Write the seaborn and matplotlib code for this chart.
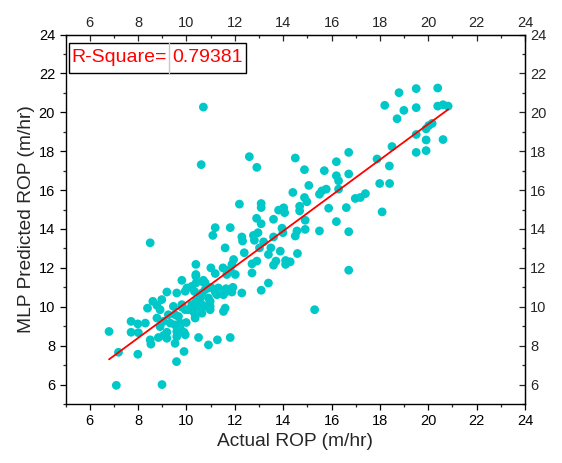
import numpy as np
import pandas as pd
import matplotlib
matplotlib.use('Agg')
import matplotlib.pyplot as plt
import seaborn as sns

# Values (actual vs MLP predicted ROP, m/hr).

actual_rop = [
    10.70, 10.61, 12.60, 12.91, 14.50, 14.88, 15.06, 8.50, 12.19, 13.09,
    13.09, 14.40, 14.88, 14.98, 14.68, 14.68, 13.81, 14.02, 14.06, 13.60,
    12.90, 13.09, 12.96, 12.77, 12.81, 13.19, 13.02, 13.49, 13.60, 13.95,
    13.99, 14.57, 14.50, 14.91, 14.91, 13.88, 14.59, 14.10, 14.29, 14.10,
    13.60, 13.70, 12.71, 12.71, 12.91, 12.39, 12.32, 12.29, 11.60, 11.19,
    11.09, 11.81, 10.39, 11.01, 11.19, 11.51, 11.95, 11.88, 11.67, 12.02,
    10.39, 9.81, 10.70, 13.39, 13.09, 13.39, 11.81,
    15.70, 16.20, 16.20, 16.71, 16.71, 16.29, 16.29, 15.50, 15.60, 15.78,
    15.88, 16.20, 16.61, 16.71, 15.50, 16.98, 17.19, 17.40, 16.71, 17.88,
    17.99, 18.39, 18.40, 18.50, 18.09, 18.20, 18.71, 18.79, 18.99, 19.50,
    19.50, 19.50, 19.50, 19.91, 19.91, 19.91, 20.02, 20.16, 20.39, 20.39,
    20.61, 20.82, 20.61, 15.30,
    6.80, 7.19, 7.99, 7.10, 8.99, 9.59, 9.90, 10.50, 10.91, 11.28,
    11.81, 7.71, 7.71, 7.99, 8.01, 8.30, 8.50, 8.53, 8.39, 8.61,
    8.78, 8.98, 8.91, 9.19, 9.60, 9.46, 8.78, 8.91, 9.05, 9.25,
    9.33, 9.53, 9.67, 9.99, 9.74, 9.90, 9.95, 8.84, 9.19, 9.60,
    9.53, 9.53, 9.81, 10.40, 10.57, 10.22, 10.64, 10.98, 10.08, 10.36,
    10.73, 11.53, 11.60, 10.40, 10.68, 10.02, 10.22, 11.01, 11.19, 11.64,
    11.92, 11.53, 11.88, 12.29, 10.39, 10.50, 10.29, 10.36, 9.95, 9.81,
    10.98, 10.91, 10.57, 9.60, 11.26, 11.67, 11.32, 10.77, 10.91, 9.95,
    9.05, 9.19, 9.74, 10.64, 10.98, 10.33, 10.64, 10.77,
]

predicted_rop = [
    20.27, 17.31, 17.72, 17.17, 17.65, 17.05, 16.24, 13.29, 15.28, 15.31,
    15.10, 15.88, 15.62, 15.40, 15.17, 14.93, 14.97, 15.09, 14.84, 14.50,
    14.55, 14.27, 13.81, 13.67, 13.42, 13.34, 13.03, 13.03, 13.59, 14.04,
    13.81, 13.90, 13.64, 13.98, 14.45, 12.86, 12.74, 12.38, 12.31, 12.18,
    12.14, 12.35, 11.74, 12.21, 12.35, 12.78, 13.38, 13.59, 13.03, 14.07,
    13.67, 14.07, 12.18, 12.00, 11.71, 12.00, 12.43, 12.18, 11.66, 11.66,
    11.66, 11.36, 11.36, 11.22, 10.85, 12.69, 11.92,
    17.00, 17.46, 16.74, 17.94, 16.83, 16.48, 16.05, 15.79, 15.96, 16.05,
    15.07, 14.38, 15.10, 13.86, 13.90, 15.57, 15.62, 15.82, 11.88, 17.60,
    16.34, 17.24, 16.34, 18.24, 14.88, 20.36, 19.67, 21.01, 20.10, 21.22,
    20.24, 18.86, 17.94, 19.15, 18.58, 18.03, 19.32, 19.43, 21.25, 20.32,
    20.39, 20.32, 18.60, 9.85,
    8.73, 7.66, 7.56, 5.96, 6.00, 7.18, 7.70, 8.42, 8.04, 8.30,
    8.42, 9.25, 8.69, 9.12, 8.67, 9.16, 8.30, 8.08, 9.93, 10.28,
    10.07, 10.37, 9.85, 10.76, 10.71, 10.02, 9.42, 8.98, 9.25, 9.59,
    9.16, 9.07, 9.50, 9.19, 8.90, 8.69, 8.56, 8.42, 8.38, 8.47,
    8.12, 9.59, 10.11, 10.28, 10.62, 10.11, 10.11, 10.28, 9.85, 9.59,
    10.02, 9.76, 9.93, 11.23, 11.28, 10.97, 11.05, 11.00, 10.76, 10.93,
    11.00, 10.62, 10.76, 10.71, 11.57, 10.02, 9.76, 9.42, 9.85, 9.98,
    10.02, 10.45, 10.45, 8.73, 10.62, 10.79, 10.97, 11.23, 10.97, 10.80,
    8.52, 8.69, 9.16, 9.67, 9.85, 10.79, 10.71, 10.88,
]

r_square = '0.79381'
tick_values = [6, 8, 10, 12, 14, 16, 18, 20, 22, 24]

rop = pd.DataFrame({'actual': actual_rop, 'predicted': predicted_rop})

sns.set_style('ticks')
plt.rcParams['font.family'] = ['Liberation Sans', 'DejaVu Sans']

fig = plt.figure(figsize=(5.62, 4.63), dpi=100)
ax = fig.add_axes([0.1166, 0.1274, 0.8176, 0.798])

sns.scatterplot(data=rop, x='actual', y='predicted', ax=ax, color='#00c8c8',
                s=40, edgecolor='none', linewidth=0, zorder=2)
sns.regplot(data=rop, x='actual', y='predicted', ax=ax, scatter=False, ci=None,
            line_kws={'color': '#ff0000', 'linewidth': 1.3, 'zorder': 3})

ax.set_xlim(5, 24)
ax.set_ylim(5, 24)
ax.set_xticks(tick_values)
ax.set_yticks(tick_values)
ax.set_xticks(np.arange(5, 25, 2), minor=True)
ax.set_yticks(np.arange(5, 25, 2), minor=True)
ax.tick_params(which='major', direction='out', length=4, width=0.9, labelsize=10.5, colors='black')
ax.tick_params(which='minor', direction='out', length=2.3, width=0.9)
for side in ['left', 'right', 'top', 'bottom']:
    ax.spines[side].set_visible(True)
    ax.spines[side].set_linewidth(1.0)
    ax.spines[side].set_color('black')

# top and right axes with inward ticks
top = ax.secondary_xaxis('top')
top.set_xticks(tick_values)
top.set_xticks(np.arange(5, 25, 2), minor=True)
top.tick_params(which='major', direction='in', length=4, width=0.9, labelsize=10.5)
top.tick_params(which='minor', direction='in', length=2.3, width=0.9)
right = ax.secondary_yaxis('right')
right.set_yticks(tick_values)
right.set_yticks(np.arange(5, 25, 2), minor=True)
right.tick_params(which='major', direction='in', length=4, width=0.9, labelsize=10.5)
right.tick_params(which='minor', direction='in', length=2.3, width=0.9)

ax.set_xlabel('Actual ROP (m/hr)', fontsize=13.8, labelpad=3)
ax.set_ylabel('MLP Predicted ROP (m/hr)', fontsize=13.8, labelpad=3)

# R-Square box
tab = ax.table(cellText=[['R-Square=', r_square]], cellLoc='center',
               bbox=[0.008, 0.897, 0.385, 0.081], colWidths=[0.218, 0.167])
tab.auto_set_font_size(False)
for (r, c), cell in tab.get_celld().items():
    cell.set_edgecolor('black')
    cell.set_linewidth(1.0)
    cell.set_facecolor('white')
    cell.get_text().set_color('#ff0000')
    cell.get_text().set_fontsize(14)
    cell.PAD = 0.02
    cell.visible_edges = 'BLT' if c == 0 else 'BRT'
ax.plot([0.226, 0.226], [0.897, 0.978], transform=ax.transAxes, color='#c8c8c8',
        linewidth=1.0, zorder=5)

fig.savefig('out.png', dpi=100)
